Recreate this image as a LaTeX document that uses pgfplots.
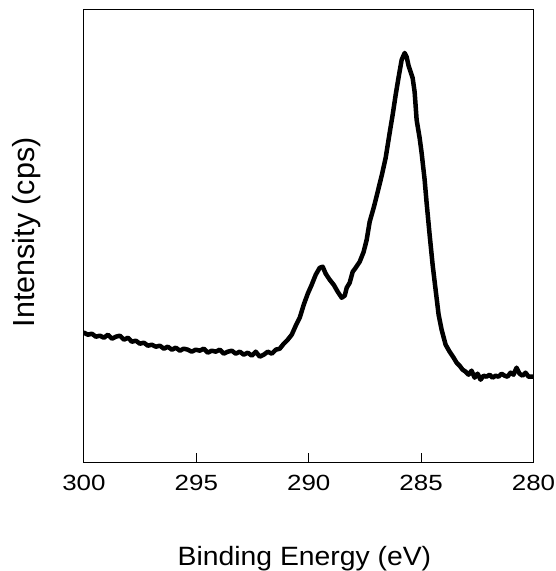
\documentclass[border=0pt]{standalone}
\usepackage{pgfplots}
\pgfplotsset{compat=1.18}
\usepackage{fontspec}
\setmainfont{Liberation Sans}

\pgfplotstableread{
E I
300.000 130
299.822 128
299.644 129
299.467 126
299.289 127
299.111 125
298.933 128
298.756 124
298.578 126
298.400 127
298.222 123
298.044 125
297.867 121
297.689 122
297.511 119
297.333 120
297.156 117
296.978 118
296.800 116
296.622 117
296.444 114
296.267 116
296.089 113
295.911 115
295.733 112
295.556 114
295.378 113
295.200 111
295.022 113
294.844 112
294.667 114
294.489 110
294.311 112
294.133 111
293.956 113
293.778 109
293.600 111
293.422 112
293.244 109
293.067 111
292.889 108
292.711 110
292.533 107
292.356 111
292.178 106
292.000 108
291.822 111
291.644 109
291.467 113
291.289 114
291.111 119
290.933 123
290.756 128
290.578 137
290.400 145
290.222 158
290.044 169
289.867 178
289.689 188
289.511 195
289.378 196
289.244 189
289.067 183
288.889 178
288.711 171
288.533 165
288.400 167
288.311 175
288.178 180
288.044 191
287.911 195
287.733 201
287.556 211
287.422 223
287.289 241
287.111 255
286.933 271
286.756 287
286.578 305
286.400 330
286.267 348
286.133 368
286.000 386
285.867 403
285.733 410
285.644 406
285.556 397
285.467 391
285.378 385
285.289 371
285.200 343
285.067 325
284.978 310
284.844 283
284.756 260
284.622 228
284.489 198
284.356 173
284.222 148
284.089 133
283.911 118
283.733 111
283.556 105
283.422 100
283.289 97
283.156 93
283.022 91
282.889 88
282.756 92
282.622 85
282.489 89
282.356 83
282.222 87
282.089 86
281.956 88
281.822 85
281.689 87
281.556 86
281.422 89
281.289 87
281.156 86
281.022 90
280.889 88
280.756 95
280.622 89
280.489 87
280.356 90
280.222 86
280.000 86
}\xps

\begin{document}
\begin{tikzpicture}
\begin{axis}[
    scale only axis,
    width=450pt, height=453pt,
    x dir=reverse,
    xmin=280, xmax=300,
    ymin=0, ymax=453,
    xtick={280,285,...,300},
    xtick pos=bottom,
    ytick=\empty,
    tick align=inside,
    major tick length=9.5pt,
    axis line style={line width=1pt},
    tick style={line width=1pt, black},
    /pgf/number format/assume math mode=true,
    /pgf/number format/1000 sep={},
    xticklabel style={font=\fontsize{22}{26}\selectfont, xscale=1.18, inner sep=0pt, anchor=base, yshift=-28pt},
    xlabel={Binding Energy (eV)},
    ylabel={Intensity (cps)},
    xlabel style={font=\fontsize{26.5}{30}\selectfont, xscale=1.07, inner sep=0pt,
        at={(rel axis cs:0.5,0)}, anchor=base, yshift=-103pt, xshift=-4pt},
    ylabel style={font=\fontsize{30.5}{34}\selectfont, inner sep=0pt,
        at={(rel axis cs:0,0.5)}, anchor=base, yshift=49pt, xshift=4pt},
]
\addplot[black, line width=4.5pt, line join=round, line cap=round] table[x=E, y=I] {\xps};
\end{axis}
\path ([xshift=-84pt, yshift=-108pt]current axis.south west) circle (0pt);
\path ([xshift=20pt, yshift=10pt]current axis.north east) circle (0pt);
\end{tikzpicture}
\end{document}
